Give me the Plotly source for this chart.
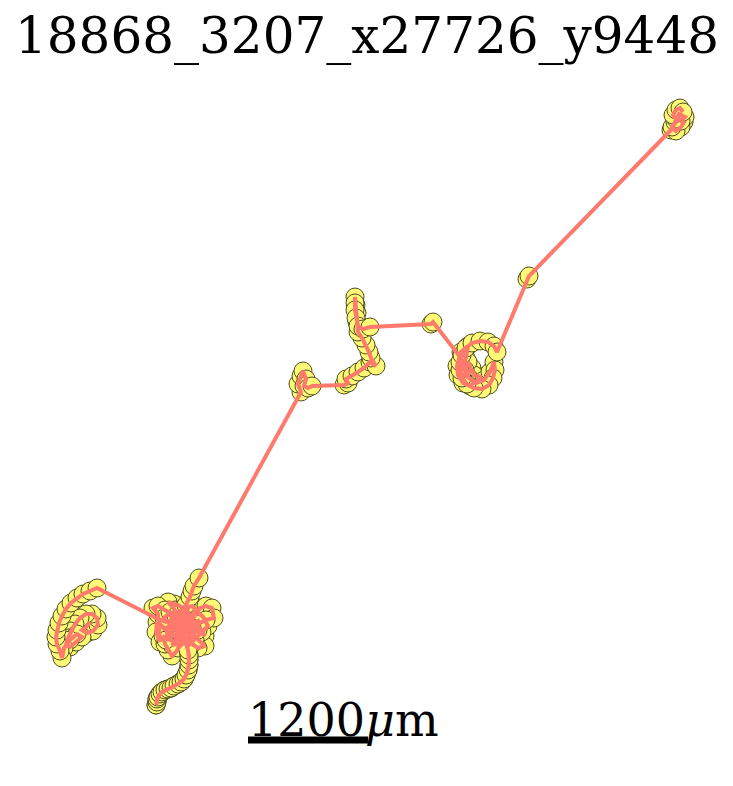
import plotly.graph_objects as go

# Track positions in micrometres (x to the right, y downward as in the image)
left_x = [900, 860, 820, 870, 930, 980, 970, 920, 860, 800, 750, 710, 680, 660, 700, 760, 820, 770, 700, 640,
          620, 600, 570, 560, 570, 590, 620, 660, 710, 770, 830, 900, 970]
left_y = [6220, 6270, 6300, 6330, 6310, 6250, 6180, 6140, 6140, 6180, 6240, 6310, 6380, 6450, 6470, 6420, 6370, 6340, 6400, 6480,
          6580, 6510, 6440, 6370, 6300, 6230, 6160, 6090, 6030, 5980, 5940, 5910, 5880]

core1_x = [1600, 1660, 1720, 1780, 1840, 1880, 1800, 1740, 1680, 1750,
           1820, 1880, 1940, 2000, 2050, 2000, 1940, 1860, 1800, 1740,
           1680, 1620, 1570, 1560, 1600, 1580, 1530, 1580, 1650, 1720,
           1780, 1840, 1900, 1960, 2000, 2050, 1980, 1920, 1860, 1800,
           1760, 1720, 1680, 1650, 1630, 1700, 1780, 1830, 1860]
core1_y = [6200, 6220, 6200, 6260, 6180, 6120, 6060, 6040, 6020, 6100,
           6280, 6220, 6300, 6320, 6360, 6280, 6220, 6160, 6300, 6360,
           6320, 6260, 6220, 6320, 6420, 6140, 6080, 6060, 6100, 6140,
           6200, 6240, 6320, 6380, 6420, 6460, 6480, 6440, 6400, 6460,
           6520, 6560, 6500, 6440, 6360, 6400, 6420, 6350, 6420]

core3_x = [1750, 1820, 1900, 1960, 1900, 1820, 1740, 1680, 1660, 1720,
           1800, 1860, 1800, 1740, 1780, 1840, 1920, 1980, 2040, 2080, 2020, 1900]
core3_y = [6200, 6150, 6180, 6260, 6360, 6400, 6420, 6380, 6280, 6240,
           6220, 6280, 6340, 6280, 6120, 6080, 6060, 6120, 6180, 6260, 6320, 6440]

core4_x = [1700, 1950, 1720, 1960, 1680, 1980, 1780, 1880, 1660, 2000, 1750, 1900, 1800, 1850]
core4_y = [6150, 6400, 6450, 6120, 6280, 6300, 6480, 6080, 6400, 6200, 6320, 6250, 6150, 6350]

tail_x = [1880, 1890, 1890, 1890, 1880, 1860, 1840, 1810, 1780, 1740, 1710, 1680, 1650, 1620, 1600, 1580, 1570, 1570, 1560]
tail_y = [6500, 6550, 6600, 6650, 6700, 6750, 6790, 6820, 6840, 6860, 6880, 6890, 6900, 6920, 6940, 6970, 6990, 7020, 7050]

core2_x = [1830, 1880, 1920, 1960, 2000, 2060, 2120, 2140, 2060, 1980,
           1920, 1860, 1800, 1760, 1700, 1640, 1700, 1760, 1820, 1860,
           1900, 1920, 1940, 1990]
core2_y = [6350, 6280, 6200, 6140, 6080, 6060, 6080, 6180, 6200, 6240,
           6280, 6320, 6360, 6300, 6240, 6180, 6120, 6160, 6120, 6050,
           5970, 5910, 5860, 5780]

mid_x = [3010, 2980, 3010, 3030, 3060, 3040, 3080, 3120, 3440, 3480, 3460, 3520, 3580, 3640, 3700, 3760,
         3710, 3690, 3660, 3620, 3580, 3570, 3570, 3560, 3550, 3550, 3550, 3560, 3580, 3630, 3700, 4310, 4330]
mid_y = [3920, 3840, 3760, 3710, 3790, 3860, 3880, 3860, 3850, 3830, 3790, 3760, 3720, 3680, 3620, 3660,
         3580, 3520, 3450, 3380, 3320, 3220, 3130, 3050, 2970, 3030, 3100, 3180, 3260, 3290, 3270, 3240, 3220]

ring_x = [4640, 4600, 4660, 4720, 4680, 4630, 4660, 4680, 4610, 4570,
          4580, 4630, 4700, 4810, 4740, 4680, 4650, 4690, 4760, 4840,
          4900, 4940, 4950, 4930, 4890, 4820, 4740, 4670, 4620, 4600,
          4600, 4620, 4660, 4720, 4800, 4880, 4940, 4970, 5270, 5290]
ring_y = [3620, 3720, 3760, 3680, 3720, 3660, 3580, 3460, 3520, 3660,
          3750, 3830, 3860, 3770, 3750, 3620, 3700, 3780, 3830, 3800,
          3720, 3620, 3700, 3780, 3850, 3890, 3880, 3840, 3780, 3700,
          3620, 3550, 3480, 3430, 3410, 3420, 3460, 3520, 2790, 2760]

tr_x = [6710, 6740, 6780, 6840, 6810, 6760, 6720, 6750, 6790, 6850, 6810, 6760, 6730, 6760, 6800, 6830]
tr_y = [1300, 1240, 1180, 1220, 1270, 1310, 1270, 1220, 1140, 1170, 1210, 1190, 1150, 1100, 1080, 1120]

title_text = "18868_3207_x27726_y9448"
scale_len_um = 1200
scale_x0 = 2480
scale_y = 7400

track_x = left_x + core1_x + core3_x + core4_x + tail_x + tail_x[::-1] + core2_x + mid_x + ring_x + tr_x
track_y = left_y + core1_y + core3_y + core4_y + tail_y + tail_y[::-1] + core2_y + mid_y + ring_y + tr_y

fig = go.Figure()
fig.add_trace(go.Scatter(
    x=track_x, y=track_y, mode="markers",
    marker=dict(size=18, color="#fdf976", line=dict(color="#4d4d1c", width=1)),
    hoverinfo="skip", showlegend=False))
fig.add_trace(go.Scatter(
    x=track_x, y=track_y, mode="lines",
    line=dict(color="#fd7a6d", width=4),
    hoverinfo="skip", showlegend=False))

fig.add_shape(type="line", xref="x", yref="y",
              x0=scale_x0, x1=scale_x0 + scale_len_um, y0=scale_y, y1=scale_y,
              line=dict(color="black", width=7))
fig.add_annotation(x=scale_x0 - 20, y=7200, xref="x", yref="y",
                   text=f"{scale_len_um}<i>μ</i>m", showarrow=False,
                   xanchor="left", yanchor="middle",
                   font=dict(family="DejaVu Serif", size=46, color="black"))
fig.add_annotation(x=0.5, y=1 - 36 / 786, xref="paper", yref="paper",
                   text=title_text, showarrow=False,
                   xanchor="center", yanchor="middle",
                   font=dict(family="DejaVu Serif", size=50, color="black"))

fig.update_layout(
    width=733, height=786,
    margin=dict(l=0, r=0, t=0, b=0),
    paper_bgcolor="white", plot_bgcolor="white",
    showlegend=False,
    xaxis=dict(range=[0, 7330], visible=False),
    yaxis=dict(range=[7860, 0], visible=False),
)
fig.write_html("out.html")
